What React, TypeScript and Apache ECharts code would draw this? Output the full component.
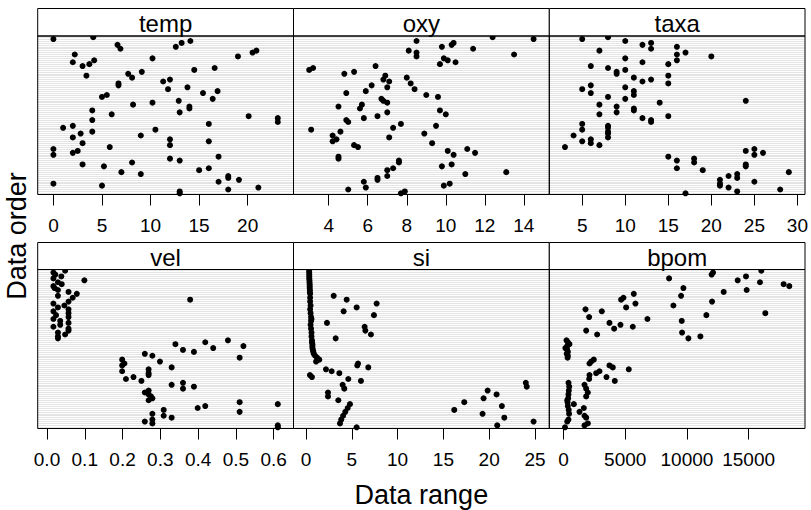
import React, { useEffect, useRef } from "react";
import * as echarts from "echarts";

// values in data order (top row of each panel first)
const temp = [4.1, 0.0, 14.1, 13.2, 6.6, 12.6, 6.9, 20.9, 20.5, 2.2,
  19.0, 10.2, 4.2, 2.0, 3.7, 3.0, 16.6, 14.5, 9.1, 7.7,
  3.4, 8.1, 12.0, 11.3, 6.7, 6.7, 13.8, 11.8, 16.9, 15.4,
  5.5, 5.0, 16.4, 12.9, 10.2, 8.2, 14.0, 14.0, 4.0, 13.0,
  6.0, 20.1, 23.1, 4.0, 23.1, 16.0, 2.0, 1.0, 10.5, 4.0,
  2.8, 9.0, 2.0, 12.0, 16.0, 3.0, 12.0, 5.8, 0.0, 2.5,
  2.0, 0.0, 17.0, 12.0, 13.0, 8.1, 3.0, 5.2, 16.0, 15.0,
  7.0, 9.0, 18.0, 18.0, 19.1, 17.0, 0.0, 5.0, 21.1, 18.0,
  13.0, 13.0];
const oxy = [12.4, 14.5, 8.5, 10.4, 10.3, 9.8, 11.4, 8.1, 8.5, 13.5,
  8.5, 9.9, 10.1, 10.5, 9.7, 6.4, 3.2, 3.0, 5.3, 4.8,
  6.9, 8.0, 6.8, 7.1, 8.2, 6.2, 7.0, 8.4, 5.9, 4.9,
  9.0, 9.6, 6.7, 6.8, 7.0, 5.7, 4.5, 5.6, 9.7, 7.0,
  10.0, 6.5, 5.8, 4.9, 5.0, 7.7, 9.5, 7.3, 3.1, 4.6,
  8.9, 4.2, 7.1, 4.4, 4.2, 9.3, 5.3, 5.5, 11.1, 10.1,
  11.5, 10.4, 4.5, 4.5, 7.6, 7.6, 10.3, 9.8, 7.3, 7.0,
  13.1, 11.0, 7.0, 6.5, 6.5, 5.8, 10.2, 9.9, 5.9, 5.0,
  7.9, 7.7];
const taxa = [8, 5, 10, 13, 12, 16, 13, 7, 17, 16,
  20, 10, 16, 12, 15, 6, 8, 10, 9, 9,
  15, 11, 13, 12, 15, 6, 10, 5, 11, 6,
  11, 8, 10, 24, 14, 7, 9, 11, 11, 9,
  7, 15, 12, 13, 13, 5, 8, 8, 5, 8,
  8, 4, 8, 6, 5, 6, 7, 3, 25, 24,
  26, 25, 15, 18, 16, 18, 24, 24, 16, 19,
  29, 23, 22, 23, 21, 25, 21, 21, 22, 28,
  23, 17];
const vel = [0.048, 0.017, 0.022, 0.038, 0.017, 0.099, 0.029, 0.039, 0.017, 0.02,
  0.029, 0.057, 0.079, 0.029, 0.068, 0.379, 0.057, 0.017, 0.046, 0.029,
  0.057, 0.017, 0.057, 0.024, 0.057, 0.017, 0.035, 0.057, 0.035, 0.017,
  0.057, 0.057, 0.029, 0.048, 0.029, 0.029, 0.479, 0.419, 0.34, 0.52,
  0.44, 0.36, 0.389, 0.259, 0.279, 0.51, 0.199, 0.299, 0.205, 0.199,
  0.33, 0.269, 0.199, 0.269, 0.269, 0.229, 0.209, 0.25, 0.36, 0.33,
  0.389, 0.36, 0.269, 0.259, 0.269, 0.275, 0.279, 0.269, 0.51, 0.611,
  0.419, 0.399, 0.309, 0.51, 0.279, 0.309, 0.33, 0.279, 0.259, 0.279,
  0.611, 0.611];
const si = [0.35, 0.35, 0.36, 0.36, 0.36, 0.38, 0.38, 0.4, 0.4, 0.4,
  0.42, 0.42, 0.45, 3.02, 0.45, 4.44, 0.45, 7.71, 0.5, 5.53,
  0.45, 4.11, 0.5, 7.42, 0.55, 0.6, 0.55, 2.29, 0.5, 6.4,
  0.55, 6.48, 0.6, 7.09, 0.6, 3.24, 0.65, 0.65, 0.7, 0.7,
  0.7, 0.75, 0.8, 0.85, 1.0, 1.2, 1.45, 1.1, 5.68, 5.6,
  6.8, 2.18, 2.8, 3.64, 0.43, 0.65, 4.62, 6.0, 24.0, 4.0,
  24.1, 4.18, 19.83, 2.4, 20.81, 2.4, 19.39, 3.53, 17.28, 4.8,
  21.39, 4.55, 16.19, 4.29, 19.28, 4.05, 21.65, 3.85, 24.85, 3.71,
  20.88, 5.53];
const bpom = [16026, 12114, 12000, 14785, 8553, 14111, 15918, 17834, 18293, 9713,
  14839, 12977, 5693, 9524, 4856, 4668, 12033, 5828, 8903, 5072,
  1781, 3103, 16350, 11574, 2077, 6799, 9578, 3723, 4614, 5612,
  4101, 1835, 9605, 2725, 11089, 10118, 240, 350, 480, 300,
  150, 300, 350, 260, 350, 330, 2455, 2240, 2104, 3723,
  3993, 5288, 2914, 2644, 2104, 3480, 2077, 4155, 405, 1700,
  460, 1835, 430, 1970, 400, 1835, 380, 300, 330, 836,
  350, 1646, 420, 1295, 450, 1700, 1835, 400, 300, 1970,
  1700, 120];

const panelNames = ["temp", "oxy", "taxa", "vel", "si", "bpom"];
const tempTicks = [0, 5, 10, 15, 20];
const oxyTicks = [4, 6, 8, 10, 12, 14];
const taxaTicks = [5, 10, 15, 20, 25, 30];
const velTicks = [0, 0.1, 0.2, 0.3, 0.4, 0.5, 0.6];
const siTicks = [0, 5, 10, 15, 20, 25];
const bpomTicks = [0, 5000, 10000, 15000];

const xTitle = "Data range";
const yTitle = "Data order";

const FONT = "'Liberation Sans', Arial, Helvetica, sans-serif";

export default function App() {
  const ref = useRef<HTMLDivElement>(null);
  useEffect(() => {
    if (!ref.current) return;
    const chart = echarts.init(ref.current, null, { renderer: "svg" });
    const series = [temp, oxy, taxa, vel, si, bpom];
    const ticks = [tempTicks, oxyTicks, taxaTicks, velTicks, siTicks, bpomTicks];
    const fmts = [
      (v: number) => String(v),
      (v: number) => String(v),
      (v: number) => String(v),
      (v: number) => v.toFixed(1),
      (v: number) => String(v),
      (v: number) => String(v),
    ];
    const n = temp.length;
    const colX = [37.7, 293.5, 549.3, 805];
    const rows = [
      { stripTop: 8.5, top: 36, bottom: 194.5 },
      { stripTop: 242.5, top: 269.5, bottom: 428.5 },
    ];
    const grids: any[] = [];
    const xAxes: any[] = [];
    const yAxes: any[] = [];
    const ser: any[] = [];
    const graphics: any[] = [];
    series.forEach((vals, i) => {
      const c = i % 3;
      const r = Math.floor(i / 3);
      const left = colX[c];
      const width = colX[c + 1] - colX[c];
      const row = rows[r];
      grids.push({
        left, width, top: row.top, height: row.bottom - row.top,
        show: true, backgroundColor: "#fff", borderWidth: 0,
      });
      const mn = Math.min(...vals);
      const mx = Math.max(...vals);
      const pad = (mx - mn) * 0.07;
      xAxes.push({
        type: "value", gridIndex: i, min: mn - pad, max: mx + pad,
        axisLine: { show: false },
        splitLine: { show: false },
        axisTick: { show: true, length: 11, inside: false, customValues: ticks[i], lineStyle: { color: "#000", width: 1 } },
        axisLabel: { show: true, customValues: ticks[i], formatter: fmts[i], color: "#000", fontSize: 19, fontFamily: FONT, margin: 21 },
      });
      yAxes.push({ type: "value", gridIndex: i, min: 0.4, max: n + 0.6, inverse: true, show: false });
      ser.push({
        type: "scatter", xAxisIndex: i, yAxisIndex: i, z: 1, data: [],
        silent: true,
        markLine: {
          silent: true, symbol: ["none", "none"], label: { show: false },
          lineStyle: { color: "#e4e4e4", width: 1, type: "solid" },
          data: vals.map((_, k) => ({ yAxis: k + 1 })),
          animation: false,
        },
      });
      ser.push({
        type: "scatter", xAxisIndex: i, yAxisIndex: i, z: 10,
        symbol: "circle", symbolSize: 6, itemStyle: { color: "#000", opacity: 1 },
        clip: true,
        data: vals.map((v, k) => [v, k + 1]),
      });
      graphics.push({
        type: "rect", z: 100,
        shape: { x: left, y: row.stripTop, width, height: row.top - row.stripTop },
        style: { fill: "#fff", stroke: "#000", lineWidth: 1 },
      });
      graphics.push({
        type: "text", z: 101, x: left + width / 2, y: (row.stripTop + row.top) / 2 + 1,
        style: { text: panelNames[i], fill: "#000", font: `24px ${FONT}`, align: "center", verticalAlign: "middle" },
      });
      graphics.push({
        type: "rect", z: 100,
        shape: { x: left, y: row.top, width, height: row.bottom - row.top },
        style: { fill: "none", stroke: "#000", lineWidth: 1 },
      });
    });
    graphics.push({
      type: "text", z: 101, x: (colX[0] + colX[3]) / 2, y: 495,
      style: { text: xTitle, fill: "#000", font: `27px ${FONT}`, align: "center", verticalAlign: "middle" },
    });
    graphics.push({
      type: "text", z: 101, x: 17, y: 236, rotation: Math.PI / 2,
      style: { text: yTitle, fill: "#000", font: `27px ${FONT}`, align: "center", verticalAlign: "middle" },
    });
    chart.setOption({
      animation: false,
      backgroundColor: "#fff",
      grid: grids,
      xAxis: xAxes,
      yAxis: yAxes,
      series: ser,
      graphic: graphics,
    });
    return () => chart.dispose();
  }, []);
  return <div ref={ref} style={{ position: "absolute", left: 0, top: 0, width: 811, height: 510 }} />;
}
